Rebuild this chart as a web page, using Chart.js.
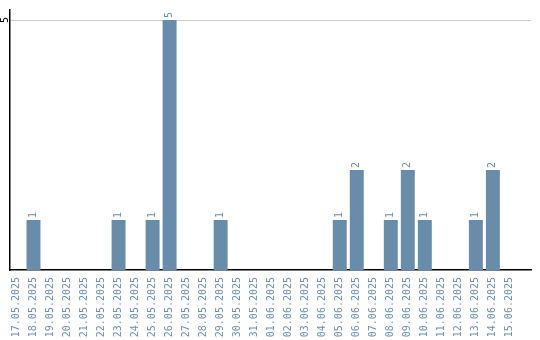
<!DOCTYPE html>
<html>
<head>
<meta charset="utf-8">
<script src="https://cdn.jsdelivr.net/npm/chart.js@4/dist/chart.umd.min.js"></script>
<style>
html,body{margin:0;padding:0;background:#fff;}
canvas{display:block;}
</style>
</head>
<body>
<canvas id="c" width="540" height="340"></canvas>
<script>
const dates = ["17.05.2025","18.05.2025","19.05.2025","20.05.2025","21.05.2025","22.05.2025","23.05.2025","24.05.2025","25.05.2025","26.05.2025","27.05.2025","28.05.2025","29.05.2025","30.05.2025","31.05.2025","01.06.2025","02.06.2025","03.06.2025","04.06.2025","05.06.2025","06.06.2025","07.06.2025","08.06.2025","09.06.2025","10.06.2025","11.06.2025","12.06.2025","13.06.2025","14.06.2025","15.06.2025"];
const counts = [0,1,0,0,0,0,1,0,1,5,0,0,1,0,0,0,0,0,0,1,2,0,1,2,1,0,0,1,2,0];
const yTicks = [5];

const barColor = '#6a8cab';
const labelColor = '#6d8fb0';
const monoFont = '"DejaVu Sans Mono", "Liberation Mono", monospace';

const extras = {
  id: 'extras',
  afterDatasetsDraw(chart) {
    const ctx = chart.ctx;
    const meta = chart.getDatasetMeta(0);
    ctx.save();
    ctx.font = '10px ' + monoFont;
    ctx.fillStyle = labelColor;
    ctx.textAlign = 'left';
    ctx.textBaseline = 'middle';
    meta.data.forEach((bar, i) => {
      const v = counts[i];
      if (!v) return;
      ctx.save();
      ctx.translate(bar.x, bar.y - 2);
      ctx.rotate(-Math.PI / 2);
      ctx.fillText(String(v), 0, 0);
      ctx.restore();
    });
    const ys = chart.scales.y;
    ctx.fillStyle = '#000';
    ctx.textAlign = 'center';
    yTicks.forEach(t => {
      ctx.save();
      ctx.translate(ys.left - 5, ys.getPixelForValue(t));
      ctx.rotate(-Math.PI / 2);
      ctx.fillText(String(t), 0, 0);
      ctx.restore();
    });
    ctx.restore();
  }
};

new Chart(document.getElementById('c'), {
  type: 'bar',
  data: {
    datasets: [{
      data: counts.map((v, i) => ({ x: i, y: v })),
      backgroundColor: barColor,
      borderWidth: 0,
      categoryPercentage: 1,
      barPercentage: 0.82
    }]
  },
  options: {
    responsive: false,
    animation: false,
    devicePixelRatio: 1,
    layout: { padding: { left: 10, right: 9, top: 10, bottom: 0 } },
    plugins: { legend: { display: false }, tooltip: { enabled: false } },
    scales: {
      x: {
        type: 'linear',
        offset: false,
        min: -0.38,
        max: 30.24,
        afterFit: (s) => { s.height = 70; },
        grid: { display: false, drawTicks: false, offset: false },
        border: { display: true, color: '#000', width: 1.5 },
        ticks: {
          stepSize: 1,
          includeBounds: false,
          autoSkip: false,
          minRotation: 90,
          maxRotation: 90,
          padding: 7,
          color: labelColor,
          font: { family: monoFont, size: 10 },
          callback: (v) => (Number.isInteger(v) && dates[v] !== undefined) ? dates[v] : null
        }
      },
      y: {
        min: 0,
        max: 5.2,
        afterBuildTicks: (s) => { s.ticks = yTicks.map(v => ({ value: v })); },
        grid: { display: true, color: '#cccccc', drawTicks: false, lineWidth: 1 },
        border: { display: true, color: '#000', width: 1.5 },
        ticks: { display: false }
      }
    }
  },
  plugins: [extras]
});
</script>
</body>
</html>
